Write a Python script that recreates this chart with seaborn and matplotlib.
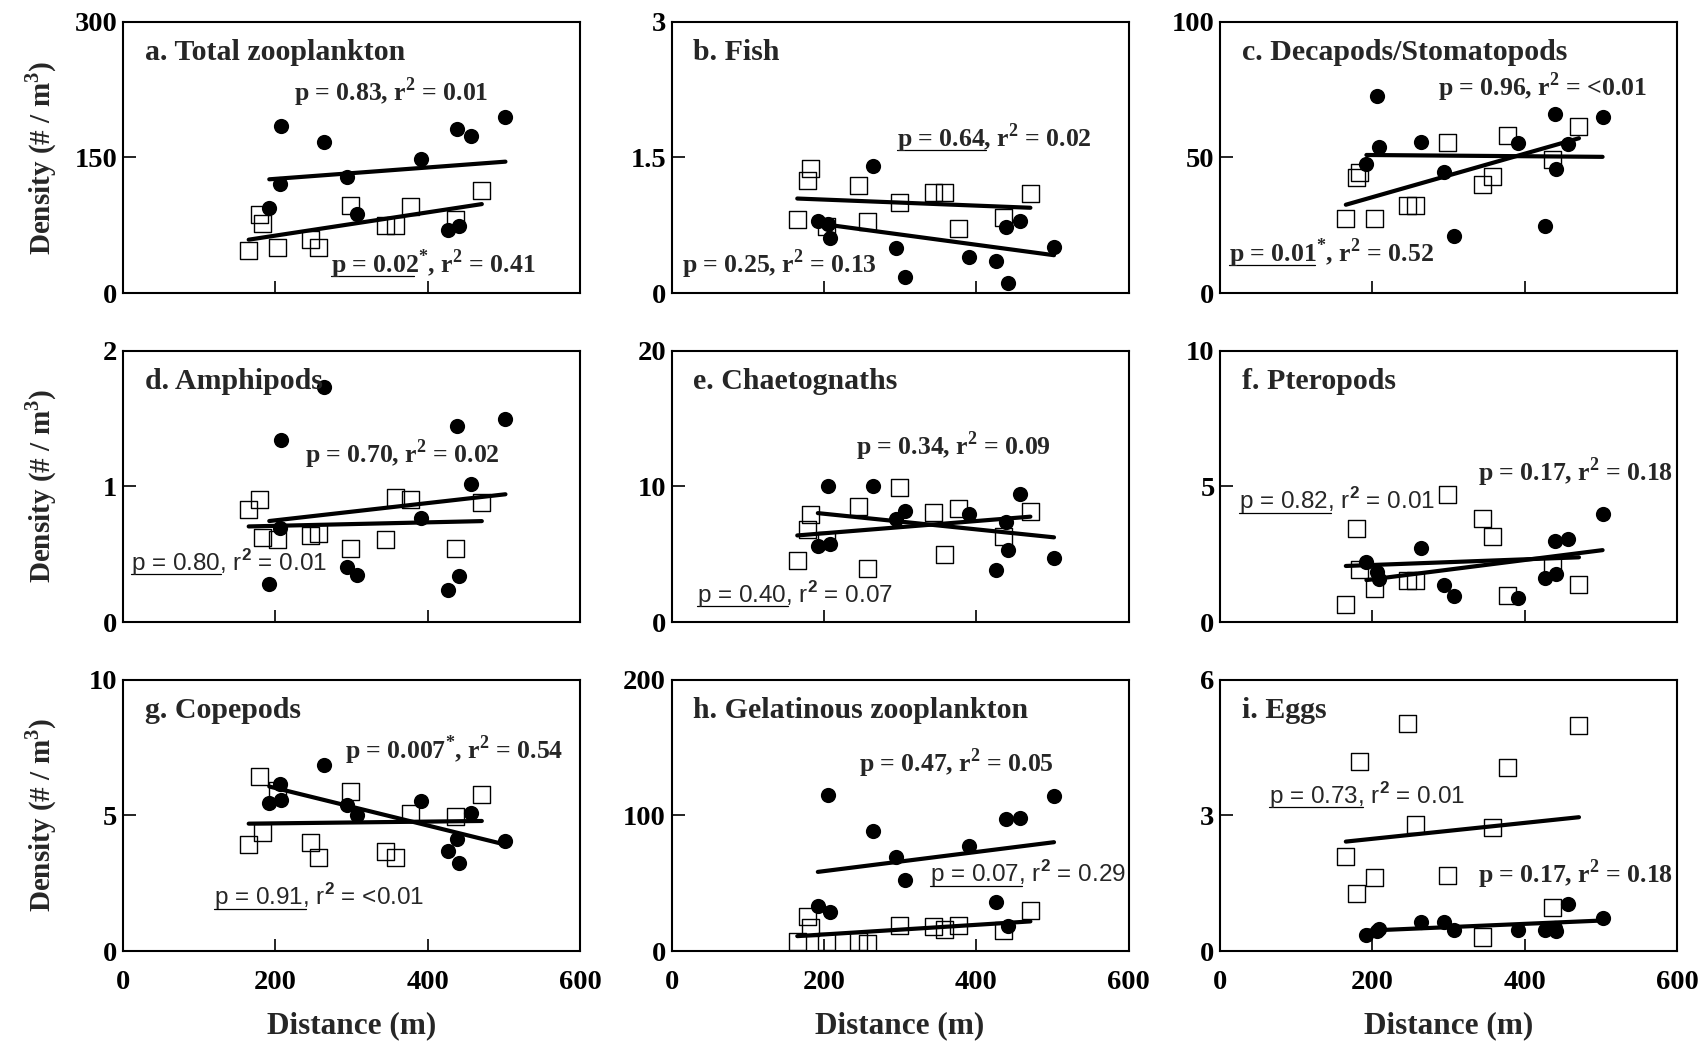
import matplotlib
matplotlib.use('Agg')
import matplotlib.pyplot as plt
import seaborn as sns

#distances (m) of the two groups of stations
dist_circ = [192, 206, 208, 264, 294, 307, 391, 426, 439, 441, 457, 502]
dist_sq = [165, 179, 183, 203, 246, 257, 299, 344, 358, 377, 436, 471]

#densities (# / m3), filled circles and open squares
a_circ = [94.6, 120.4, 184.8, 167.5, 128, 87.4, 148, 70, 181.5, 74.4, 173.7, 195]
a_sq = [47, 86.7, 76.6, 50.4, 59.6, 50.8, 97, 74.4, 74.4, 96, 81, 113]
b_circ = [0.80, 0.765, 0.61, 1.41, 0.50, 0.18, 0.40, 0.36, 0.735, 0.11, 0.80, 0.51]
b_sq = [0.81, 1.25, 1.38, 0.74, 1.19, 0.79, 1.00, 1.11, 1.11, 0.72, 0.84, 1.10]
c_circ = [47.5, 72.8, 54, 55.8, 44.8, 21.1, 55.2, 24.8, 65.9, 45.6, 54.8, 64.8]
c_sq = [27.6, 42.6, 44.5, 27.4, 32.3, 32.3, 55.6, 39.9, 43, 58, 49.4, 61.6]
d_circ = [0.28, 0.69, 1.34, 1.735, 0.405, 0.347, 0.765, 0.235, 1.444, 0.34, 1.02, 1.50]
d_sq = [0.833, 0.905, 0.626, 0.61, 0.638, 0.655, 0.54, 0.607, 0.92, 0.905, 0.54, 0.88]
e_circ = [5.6, 10.07, 5.73, 10.07, 7.6, 8.17, 7.98, 3.83, 7.37, 5.32, 9.46, 4.7]
e_sq = [4.51, 6.83, 7.93, 6.0, 8.49, 3.95, 9.93, 8.05, 5.0, 8.41, 6.34, 8.17]
f_circ = [2.21, 1.84, 1.60, 2.73, 1.36, 0.97, 0.87, 1.64, 3.0, 1.78, 3.07, 4.0]
f_sq = [0.64, 3.46, 1.92, 1.24, 1.52, 1.52, 4.70, 3.82, 3.16, 0.97, 2.1, 1.37]
g_circ = [5.44, 6.15, 5.56, 6.86, 5.38, 5.02, 5.54, 3.70, 4.13, 3.25, 5.09, 4.07]
g_sq = [3.91, 6.42, 4.38, 5.9, 4.01, 3.46, 5.87, 3.68, 3.43, 5.07, 4.96, 5.76]
h_circ = [33.4, 115, 28.6, 88.6, 69, 52, 77.5, 36.3, 97.6, 18.4, 98, 114.5]
h_sq = [7.3, 25.4, 17, 7.3, 6.8, 5.6, 18.9, 18.2, 15.7, 18.9, 15.3, 29.8]
i_circ = [0.36, 0.45, 0.49, 0.65, 0.65, 0.47, 0.47, 0.47, 0.5, 0.44, 1.04, 0.73]
i_sq = [2.09, 1.28, 4.20, 1.62, 5.03, 2.80, 1.66, 0.31, 2.73, 4.07, 0.97, 5.0]

titles = ['a. Total zooplankton', 'b. Fish', 'c. Decapods/Stomatopods',
          'd. Amphipods', 'e. Chaetognaths', 'f. Pteropods',
          'g. Copepods', 'h. Gelatinous zooplankton', 'i. Eggs']
circ_vals = [a_circ, b_circ, c_circ, d_circ, e_circ, f_circ, g_circ, h_circ, i_circ]
sq_vals = [a_sq, b_sq, c_sq, d_sq, e_sq, f_sq, g_sq, h_sq, i_sq]
y_max = [300, 3, 100, 2, 20, 10, 10, 200, 6]
y_ticklabels = [['0', '150', '300'], ['0', '1.5', '3'], ['0', '50', '100'],
                ['0', '1', '2'], ['0', '10', '20'], ['0', '5', '10'],
                ['0', '5', '10'], ['0', '100', '200'], ['0', '3', '6']]
x_ticks = [0, 200, 400, 600]

#regression statistics: (text, bold serif?)
B2 = r'$^{\mathbf{2}}$'
S2 = r'$^{\mathsf{2}}$'
STAR = r'$^{\mathbf{*}}$'
stats = [
    [('p = 0.83, r' + B2 + ' = 0.01', True), ('p = 0.02' + STAR + ', r' + B2 + ' = 0.41', True)],
    [('p = 0.64, r' + B2 + ' = 0.02', True), ('p = 0.25, r' + B2 + ' = 0.13', True)],
    [('p = 0.96, r' + B2 + ' = <0.01', True), ('p = 0.01' + STAR + ', r' + B2 + ' = 0.52', True)],
    [('p = 0.70, r' + B2 + ' = 0.02', True), ('p = 0.80, r' + S2 + ' = 0.01', False)],
    [('p = 0.34, r' + B2 + ' = 0.09', True), ('p = 0.40, r' + S2 + ' = 0.07', False)],
    [('p = 0.17, r' + B2 + ' = 0.18', True), ('p = 0.82, r' + S2 + ' = 0.01', False)],
    [('p = 0.007' + STAR + ', r' + B2 + ' = 0.54', True), ('p = 0.91, r' + S2 + ' = <0.01', False)],
    [('p = 0.47, r' + B2 + ' = 0.05', True), ('p = 0.07, r' + S2 + ' = 0.29', False)],
    [('p = 0.17, r' + B2 + ' = 0.18', True), ('p = 0.73, r' + S2 + ' = 0.01', False)],
]
#text positions (axes fraction) and underlines (x0, x1, y), layout only
stat_pos = [
    [(0.375, 0.708, None), (0.455, 0.076, (0.455, 0.637, 0.064))],
    [(0.493, 0.540, (0.493, 0.687, 0.528)), (0.023, 0.076, None)],
    [(0.477, 0.726, None), (0.020, 0.114, (0.020, 0.207, 0.102))],
    [(0.399, 0.587, None), (0.018, 0.190, (0.018, 0.215, 0.177))],
    [(0.404, 0.617, None), (0.055, 0.071, (0.055, 0.255, 0.061))],
    [(0.564, 0.520, None), (0.042, 0.416, (0.042, 0.243, 0.403))],
    [(0.4865, 0.707, None), (0.200, 0.169, (0.200, 0.400, 0.156))],
    [(0.410, 0.661, None), (0.566, 0.253, (0.566, 0.766, 0.241))],
    [(0.564, 0.252, None), (0.108, 0.543, (0.108, 0.312, 0.531))],
]

sns.set_theme(style='ticks')
plt.rcParams['font.family'] = ['Liberation Serif', 'DejaVu Serif']
plt.rcParams['font.weight'] = 'bold'
plt.rcParams['mathtext.fontset'] = 'custom'
plt.rcParams['mathtext.rm'] = 'Liberation Serif:bold'
plt.rcParams['mathtext.bf'] = 'Liberation Serif:bold'
plt.rcParams['mathtext.sf'] = 'Liberation Sans'

fig, axes = plt.subplots(3, 3, figsize=(17.08, 10.43), dpi=100)
fig.subplots_adjust(left=0.072, right=0.982, bottom=0.0882, top=0.979, wspace=0.2, hspace=0.213)

for i, ax in enumerate(axes.flat):
    #open squares
    sns.regplot(x=dist_sq, y=sq_vals[i], ax=ax, ci=None, marker='s', color='black',
                scatter_kws={'s': 150, 'facecolors': 'none', 'linewidths': 1.0, 'alpha': 1},
                line_kws={'lw': 3, 'zorder': 4})
    #filled circles
    sns.regplot(x=dist_circ, y=circ_vals[i], ax=ax, ci=None, marker='o', color='black',
                scatter_kws={'s': 120, 'linewidths': 0, 'alpha': 1, 'zorder': 3},
                line_kws={'lw': 3, 'zorder': 4})
    ax.set_xlim(0, 600)
    ax.set_ylim(0, y_max[i])
    ax.set_xticks(x_ticks)
    ax.set_yticks([0, y_max[i] / 2, y_max[i]])
    ax.set_yticklabels(y_ticklabels[i])
    ax.tick_params(direction='in', length=9, width=1.2, labelsize=20.5, colors='black')
    ax.tick_params(axis='x', pad=14)
    ax.tick_params(axis='y', pad=4)
    for sp in ax.spines.values():
        sp.set_linewidth(1.5)
        sp.set_color('black')
    ax.set_xlabel('')
    ax.set_ylabel('')
    ax.text(0.048, 0.86, titles[i], transform=ax.transAxes, fontsize=21.5,
            fontweight='bold', va='baseline', ha='left')
    for (txt, bold), (tx, ty, ul) in zip(stats[i], stat_pos[i]):
        if bold:
            ax.text(tx, ty, txt, transform=ax.transAxes, fontsize=18.5,
                    fontweight='bold', va='baseline', ha='left')
        else:
            ax.text(tx, ty, txt, transform=ax.transAxes, fontsize=17.5,
                    family=['Liberation Sans', 'DejaVu Sans'], fontweight='normal',
                    va='baseline', ha='left')
        if ul is not None:
            ax.plot([ul[0], ul[1]], [ul[2], ul[2]], transform=ax.transAxes,
                    color='black', lw=0.9, clip_on=False)
    row, col = divmod(i, 3)
    if row < 2:
        ax.tick_params(axis='x', labelbottom=False)
    else:
        ax.set_xlabel('Distance (m)', fontsize=22.5, fontweight='bold')
        ax.xaxis.set_label_coords(0.5, -0.222)
    if col == 0:
        ax.set_ylabel(r'Density (# / m$^{\mathbf{3}}$)', fontsize=21, fontweight='bold')
        ax.yaxis.set_label_coords(-0.14, 0.5)

fig.savefig('out.png', dpi=100, facecolor='white')
